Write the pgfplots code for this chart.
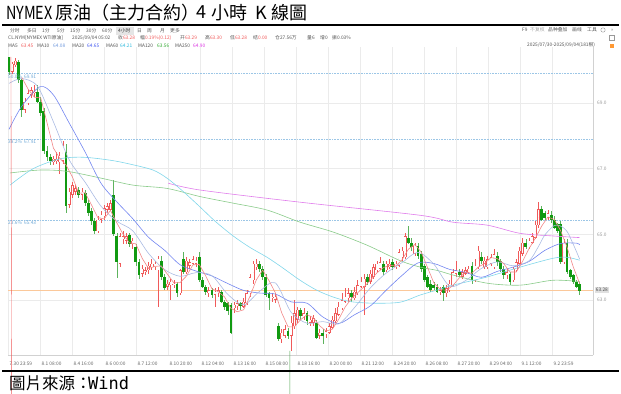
\documentclass[border=0pt]{standalone}
\usepackage{fontspec}
\setmainfont{Noto Sans CJK SC}
\newfontfamily\tcfont{Noto Sans CJK TC}
\newfontfamily\scfont{Noto Sans CJK SC}
\newfontfamily\monofont{DejaVu Sans Mono}
\usepackage{pgfplots}
\usepackage{pgfplotstable}
\pgfplotsset{compat=1.18}
\definecolor{upred}{HTML}{F05A5A}
\definecolor{dngreen}{HTML}{119A11}
\definecolor{dnwick}{HTML}{5DB35D}
\definecolor{ma5}{HTML}{F28888}
\definecolor{ma10}{HTML}{A9BBE3}
\definecolor{ma20}{HTML}{7386F0}
\definecolor{ma60}{HTML}{80D6EA}
\definecolor{ma120}{HTML}{8ACB8A}
\definecolor{ma250}{HTML}{E07CEB}
\definecolor{fib}{HTML}{9CC6E6}
\definecolor{fibtxt}{HTML}{6FA8D6}
\definecolor{gridc}{HTML}{EBEBEB}
\definecolor{curline}{HTML}{FBC89A}
\definecolor{lowgreen}{HTML}{4FA44F}
\definecolor{infotxt}{HTML}{555555}
\definecolor{ma10t}{HTML}{6F98DC}
\definecolor{ma20t}{HTML}{3F55F0}
\definecolor{ma60t}{HTML}{2BB8DC}
\definecolor{ma120t}{HTML}{2FA82F}
\definecolor{ma250t}{HTML}{D933E0}

\pgfplotsset{candle/.style={only marks, mark=*, mark size=0pt, mark options={draw=none, fill=none}, forget plot}}

\pgfplotstableread{
i o h l c
0 70.40 70.41 69.85 69.95
1 69.95 70.25 69.90 70.20
2 70.15 70.38 70.10 70.30
3 70.25 70.30 69.60 69.70
4 69.70 69.75 68.57 68.80
5 68.80 69.15 68.70 69.05
6 69.00 69.40 68.95 69.30
7 69.25 69.50 69.15 69.40
8 69.30 69.55 69.20 69.35
9 69.35 69.55 69.00 69.05
10 69.05 69.20 68.60 68.70
11 68.75 68.85 67.45 67.55
12 67.55 67.70 67.25 67.35
13 67.35 67.45 67.10 67.25
14 67.20 67.40 67.10 67.30
15 67.25 67.50 67.15 67.30
16 67.20 67.50 66.85 67.40
17 67.25 67.85 67.15 67.70
18 67.50 67.75 65.65 65.85
19 65.90 66.40 65.80 66.30
20 66.20 66.60 66.10 66.50
21 66.30 66.50 66.20 66.40
22 66.35 66.45 66.10 66.20
23 66.20 66.40 66.05 66.30
24 66.25 66.35 65.85 65.95
25 65.95 66.05 65.55 65.65
26 65.70 65.80 65.30 65.40
27 65.40 65.50 65.00 65.10
28 65.10 65.55 65.05 65.45
29 65.45 65.70 65.35 65.60
30 65.55 65.90 65.45 65.80
31 65.75 65.95 65.65 65.85
32 65.75 66.05 65.70 65.95
33 66.20 66.65 64.95 65.00
34 64.95 65.05 63.66 64.15
35 64.10 65.05 64.00 64.95
36 64.85 65.10 64.70 64.95
37 64.80 65.05 64.70 64.95
38 64.97 65.05 64.60 64.70
39 64.70 64.90 64.55 64.80
40 64.60 64.70 64.05 64.15
41 64.15 64.25 63.65 63.75
42 63.80 64.05 63.70 63.95
43 63.85 64.00 63.75 63.90
44 63.90 64.15 63.80 64.05
45 64.00 64.25 63.90 64.10
46 64.00 64.20 63.90 64.10
47 63.90 64.35 62.78 64.25
48 64.20 64.35 63.60 63.70
49 63.70 63.80 63.30 63.35
50 63.40 63.60 63.30 63.50
51 63.45 63.65 63.00 63.55
52 63.45 63.60 63.35 63.50
53 63.50 63.55 63.10 63.20
54 63.20 63.95 63.15 63.90
55 64.25 64.45 63.80 63.85
56 63.85 64.30 63.80 64.20
57 64.05 64.25 63.95 64.15
58 64.10 64.35 64.05 64.25
59 64.10 64.30 64.00 64.20
60 64.30 64.45 63.55 63.60
61 63.60 63.70 63.35 63.40
62 63.40 63.45 63.15 63.25
63 63.20 63.40 63.10 63.30
64 63.30 63.35 63.05 63.15
65 63.15 63.35 62.80 63.25
66 63.20 63.40 63.10 63.30
67 63.25 63.30 62.90 62.95
68 62.95 63.00 62.70 62.80
69 62.90 62.95 62.55 62.65
70 62.85 62.90 61.95 62.00
71 62.75 62.95 62.60 62.85
72 62.80 63.00 62.70 62.90
73 62.90 62.95 62.70 62.80
74 62.80 63.05 62.75 62.95
75 62.90 63.30 62.85 63.20
76 63.20 63.80 63.10 63.70
77 63.60 64.20 63.50 64.10
78 64.00 64.25 63.90 64.10
79 64.10 64.20 63.85 63.95
80 63.95 64.05 63.60 63.70
81 63.70 63.80 63.10 63.15
82 63.20 63.25 62.70 63.05
83 63.05 63.20 62.95 63.10
84 63.00 63.20 62.90 63.10
85 62.20 62.30 61.75 61.80
86 61.80 62.10 61.70 62.00
87 61.90 62.25 61.85 62.10
88 62.05 62.15 61.80 61.90
89 61.90 62.50 61.45 62.30
90 62.20 63.00 62.10 62.60
91 62.40 62.80 62.30 62.70
92 62.70 62.75 62.40 62.50
93 62.50 62.75 62.40 62.60
94 62.60 62.65 62.25 62.35
95 62.30 62.50 62.20 62.40
96 62.30 62.55 62.20 62.45
97 62.30 62.40 61.80 61.85
98 61.90 62.10 61.80 62.00
99 62.00 62.10 61.65 61.90
100 61.95 62.15 61.85 62.05
101 62.00 62.30 61.95 62.20
102 62.15 62.50 62.10 62.40
103 62.35 62.75 62.30 62.60
104 62.55 62.95 62.50 62.80
105 62.75 63.20 62.70 63.00
106 62.95 63.35 62.90 63.10
107 63.05 63.35 62.95 63.20
108 63.20 63.30 62.95 63.10
109 63.05 63.40 63.00 63.25
110 63.20 63.60 63.15 63.45
111 63.40 63.70 63.35 63.55
112 63.40 63.80 62.55 63.65
113 63.70 63.80 63.45 63.55
114 63.55 63.90 63.50 63.80
115 63.70 64.10 63.65 64.00
116 63.90 64.20 63.85 64.10
117 63.95 64.30 63.90 64.15
118 64.10 64.20 63.75 63.85
119 63.90 64.20 63.85 64.10
120 64.00 64.25 63.95 64.10
121 64.15 64.25 63.90 64.00
122 64.00 64.20 63.95 64.10
123 64.05 64.55 64.00 64.45
124 64.30 64.60 64.20 64.50
125 64.30 65.05 64.25 64.95
126 64.90 65.25 64.70 64.75
127 64.75 64.90 64.50 64.60
128 64.40 64.75 64.35 64.65
129 64.65 64.75 64.25 64.35
130 64.40 64.50 63.85 63.95
131 64.05 64.10 63.55 63.60
132 63.70 63.75 63.35 63.40
133 63.50 63.60 63.25 63.30
134 63.45 63.55 63.30 63.35
135 63.40 63.50 63.20 63.25
136 63.25 63.40 63.15 63.30
137 63.40 63.45 62.97 63.20
138 63.20 63.45 63.10 63.35
139 63.30 63.60 63.25 63.50
140 63.45 63.95 63.40 63.85
141 63.80 64.20 63.70 63.90
142 63.85 63.95 63.70 63.75
143 63.70 63.95 63.65 63.85
144 63.80 64.00 63.75 63.90
145 63.85 64.05 63.80 63.95
146 64.05 64.15 63.50 63.60
147 63.60 64.25 63.55 64.05
148 64.00 64.65 63.95 64.50
149 64.30 64.45 64.10 64.20
150 64.00 64.30 63.95 64.20
151 64.00 64.35 63.95 64.25
152 64.10 64.40 64.05 64.30
153 64.00 64.55 63.95 64.40
154 64.35 64.45 64.05 64.15
155 64.20 64.25 63.85 63.95
156 63.95 64.05 63.65 63.75
157 63.75 63.95 63.65 63.85
158 63.80 63.85 63.45 63.55
159 63.60 64.00 63.55 63.95
160 63.90 64.25 63.85 64.15
161 64.10 64.60 64.05 64.50
162 64.40 64.90 64.35 64.75
163 64.75 64.85 64.55 64.60
164 64.60 64.90 64.55 64.80
165 64.75 65.05 64.70 64.95
166 64.90 65.40 64.85 65.30
167 65.28 66.00 65.20 65.77
168 65.77 65.85 65.40 65.45
169 65.65 65.70 65.45 65.50
170 65.50 65.75 65.45 65.65
171 65.60 65.70 65.35 65.43
172 65.45 65.55 65.15 65.20
173 65.30 65.35 65.05 65.10
174 65.30 65.40 64.10 64.15
175 64.15 64.85 64.10 64.75
176 64.75 64.85 63.80 63.85
177 63.90 63.95 63.65 63.70
178 63.75 63.80 63.50 63.55
179 63.55 63.60 63.35 63.40
180 63.50 63.55 63.15 63.28
}\kdata

\newcommand\tinyf{\scfont\fontsize{4.8bp}{5.2bp}\selectfont}

\begin{document}
\begin{tikzpicture}[x=1bp,y=1bp,
  info/.style={anchor=west, inner sep=0pt, font=\tinyf, text=infotxt},
  ttl/.style={anchor=west, inner sep=0pt, font=\tcfont\fontsize{18bp}{19bp}\selectfont}]
\useasboundingbox (0,0) rectangle (621,393);
% title
\node[ttl] at (6,380.5) {\scalebox{0.8}[1]{NYMEX}};
\node[ttl] at (55.5,380.5) {原油（主力合約）};
\node[ttl] at (196,380.5) {4};
\node[ttl] at (211.5,380.5) {小時};
\node[ttl] at (255.5,380.5) {K};
\node[ttl] at (271.5,380.5) {線圖};
\draw[line width=1.5bp] (2,368) -- (619,368);
% row 1 tabs
\fill[black!10] (116,358.5) rectangle (134,365.5);
\node[info] at (10,362) {分时};
\node[info] at (27,362) {多日};
\node[info] at (42,362) {1分};
\node[info] at (57,362) {5分};
\node[info] at (70,362) {15分};
\node[info] at (86,362) {30分};
\node[info] at (102,362) {60分};
\node[info, text=black!80] at (118,362) {4小时};
\node[info] at (137,362) {日};
\node[info] at (147,362) {周};
\node[info] at (160,362) {月};
\node[info] at (170,362) {更多};
% row 2
\node[info] at (8,355) {CL.NYM[NYMEX WTI原油]};
\node[info] at (72,355) {2025/09/04 05:02};
\node[info] at (118,355) {收\textcolor{upred}{63.28}};
\node[info] at (140,355) {幅\textcolor{upred}{0.19\%(0.12)}};
\node[info] at (180,355) {开\textcolor{upred}{63.29}};
\node[info] at (205,355) {高\textcolor{upred}{63.30}};
\node[info] at (230,355) {低\textcolor{upred}{63.28}};
\node[info] at (253,355) {结\textcolor{upred}{0.00}};
\node[info] at (275,355) {仓27.56万};
\node[info] at (307,355) {量6};
\node[info] at (320,355) {增0};
\node[info] at (332,355) {振0.03\%};
% row 3
\node[info] at (8,347) {MA5};
\node[info, text=upred] at (21,347) {63.45};
\node[info] at (37,347) {MA10};
\node[info, text=ma10t] at (53,347) {64.08};
\node[info] at (72,347) {MA20};
\node[info, text=ma20t] at (87,347) {64.65};
\node[info] at (106,347) {MA60};
\node[info, text=ma60t] at (120,347) {64.21};
\node[info] at (138,347) {MA120};
\node[info, text=ma120t] at (157,347) {63.56};
\node[info] at (175,347) {MA250};
\node[info, text=ma250t] at (193,347) {64.90};
% right side
\node[info] at (522,363) {F9};
\node[info, text=black!35] at (530,363) {不复权};
\node[info] at (548,363) {品种叠加};
\node[info] at (572,363) {画线};
\node[info] at (587,363) {工具};
\draw[black!40, line width=0.4bp] (603,363) circle (2.2bp);
\node[info, text=black!50] at (611,363) {»};
\draw[black!40, line width=0.4bp] (609.5,353) rectangle (614.5,357.5);
\node[info] at (527,348) {2025/07/30-2025/09/04(181根)};
\fill[orange!80] (610,345.5) rectangle (614,349);

\begin{axis}[
  at={(8bp,38bp)}, anchor=south west, scale only axis,
  width=585bp, height=308bp,
  xmin=-0.32, xmax=184.2, ymin=61.32, ymax=70.71,
  clip=false,
  axis x line*=bottom, axis y line*=right,
  axis line style={draw=black!18, line width=0.5bp},
  major tick length=0pt,
  xtick={-0.32,9.77,19.87,29.96,40.05,50.15,60.24,70.33,80.42,90.52,100.61,110.70,120.80,130.89,140.98,151.08,161.17,171.26},
  xticklabels={{7.30 23:59},{8.1 08:00},{8.4 16:00},{8.6 00:00},{8.7 12:00},{8.10 20:00},{8.12 04:00},{8.13 16:00},{8.15 08:00},{8.18 16:00},{8.20 00:00},{8.21 12:00},{8.24 20:00},{8.26 08:00},{8.27 20:00},{8.29 04:00},{9.1 12:00},{9.2 23:59}},
  ytick={63,65,67,69},
  grid=major, grid style={draw=gridc, line width=0.5bp},
  xticklabel style={anchor=north west, font=\tinyf, text=black!60, inner sep=0pt, yshift=-6.5bp, xshift=1.5bp},
  yticklabel style={anchor=west, font=\tinyf, text=black!40, inner sep=0pt, xshift=4bp,
    /pgf/number format/fixed, /pgf/number format/fixed zerofill, /pgf/number format/precision=1},
  /pgf/number format/assume math mode=true,
]
% fibonacci lines
\addplot[fib, densely dotted, line width=0.6bp, forget plot] coordinates {(-0.32,69.91) (184.2,69.91)};
\addplot[fib, densely dotted, line width=0.6bp, forget plot] coordinates {(-0.32,67.91) (184.2,67.91)};
\addplot[fib, densely dotted, line width=0.6bp, forget plot] coordinates {(-0.32,65.43) (184.2,65.43)};
% current price line
\addplot[curline, line width=0.8bp, forget plot] coordinates {(-0.32,63.28) (184.2,63.28)};

% wicks
\addplot[candle,
  restrict expr to domain={\thisrow{c}-\thisrow{o}}{0:100},
  error bars/.cd, y dir=both, y explicit, error mark=none,
  error bar style={draw=upred, line width=0.55bp}]
  table[x=i, y expr={(\thisrow{h}+\thisrow{l})/2}, y error expr={(\thisrow{h}-\thisrow{l})/2}] {\kdata};
\addplot[candle,
  restrict expr to domain={\thisrow{c}-\thisrow{o}}{-100:-0.0001},
  error bars/.cd, y dir=both, y explicit, error mark=none,
  error bar style={draw=dnwick, line width=0.55bp}]
  table[x=i, y expr={(\thisrow{h}+\thisrow{l})/2}, y error expr={(\thisrow{h}-\thisrow{l})/2}] {\kdata};
% down bodies (filled green)
\addplot[candle,
  restrict expr to domain={\thisrow{c}-\thisrow{o}}{-100:-0.0001},
  error bars/.cd, y dir=both, y explicit, error mark=none,
  error bar style={draw=dngreen, line width=2.8bp}]
  table[x=i, y expr={(\thisrow{o}+\thisrow{c})/2}, y error expr={max(abs(\thisrow{o}-\thisrow{c})/2,0.02)}] {\kdata};
% up bodies (hollow red)
\addplot[candle,
  restrict expr to domain={\thisrow{c}-\thisrow{o}}{0:100},
  error bars/.cd, y dir=both, y explicit, error mark=none,
  error bar style={draw=upred, line width=2.8bp}]
  table[x=i, y expr={(\thisrow{o}+\thisrow{c})/2}, y error expr={max(abs(\thisrow{o}-\thisrow{c})/2,0.02)}] {\kdata};
\addplot[candle,
  restrict expr to domain={\thisrow{c}-\thisrow{o}}{0:100},
  error bars/.cd, y dir=both, y explicit, error mark=none,
  error bar style={draw=white, line width=1.7bp}]
  table[x=i, y expr={(\thisrow{o}+\thisrow{c})/2}, y error expr={max(abs(\thisrow{o}-\thisrow{c})/2-0.017,0)}] {\kdata};

% moving averages
\addplot[ma250, line width=0.6bp, smooth, forget plot] coordinates {
(50.2,66.56) (60.3,66.35) (91.8,65.98) (129.7,65.58) (140,65.37) (150.8,65.28) (161.2,65.03) (171.6,64.95) (180,64.90)};
\addplot[ma120, line width=0.6bp, smooth, forget plot] coordinates {
(0.3,66.87) (9.8,66.96) (18.3,66.92) (28.7,66.72) (39.1,66.50) (49.8,66.40) (60.3,66.15) (70.7,65.95) (81.4,65.74) (91.8,65.37) (102.2,65.07) (112.9,64.67) (123.3,64.20) (129.7,64.00) (135,63.90) (140,63.76) (150.8,63.51) (161.2,63.45) (171.6,63.60) (180,63.56)};
\addplot[ma60, line width=0.6bp, smooth, forget plot] coordinates {
(0.3,66.50) (7.6,67.00) (16,67.30) (23.3,67.35) (31.9,67.26) (38.2,67.14) (45.4,66.96) (50,66.70) (55,66.30) (60.3,65.83) (65,65.40) (70.7,64.95) (76,64.60) (81.4,64.30) (86,64.00) (91.8,63.60) (97,63.30) (102.2,63.09) (107.6,62.95) (115,62.90) (123.3,62.93) (129.7,63.15) (135,63.30) (140,63.45) (150.8,63.70) (161.2,64.00) (171.6,64.27) (176,64.30) (180,64.21)};
\addplot[ma20, line width=0.6bp, smooth, forget plot] coordinates {
(0,68.20) (4,68.90) (9.8,69.50) (14,69.25) (19,68.39) (24,67.51) (29,66.56) (34,65.99) (39,65.48) (44,64.91) (49,64.52) (54,64.07) (59,63.88) (64,63.73) (69,63.50) (74,63.29) (79,63.21) (84,63.18) (89,62.94) (94,62.90) (99,62.48) (104,62.28) (109,62.55) (114,62.82) (119,63.30) (124,63.75) (129,64.13) (134,64.11) (139,63.93) (144,63.84) (149,63.69) (154,63.87) (159,64.00) (164,64.17) (169,64.51) (174,64.72) (179,64.73) (180,64.68)};
\addplot[ma10, line width=0.6bp, smooth, forget plot] coordinates {
(0,69.60) (4,69.75) (9,69.51) (14,68.43) (19,67.27) (24,66.59) (29,65.86) (34,65.40) (39,65.11) (44,64.42) (49,63.93) (54,63.72) (59,63.83) (64,63.74) (69,63.17) (74,62.85) (79,63.26) (84,63.52) (89,62.62) (94,62.29) (99,62.34) (104,62.27) (109,62.77) (114,63.37) (119,63.82) (124,64.14) (129,64.45) (134,64.09) (139,63.42) (144,63.59) (149,63.96) (154,64.16) (159,64.04) (164,64.19) (167,64.63) (169,64.98) (172,65.27) (174,65.25) (176,65.09) (178,64.69) (180,64.24)};
\addplot[ma5, line width=0.6bp, forget plot] coordinates {
(4,69.79) (6,69.43) (8,69.18) (10,69.16) (12,68.40) (14,67.63) (16,67.32) (18,67.11) (20,66.75) (22,66.25) (24,66.27) (26,65.90) (28,65.51) (30,65.47) (32,65.73) (34,65.35) (36,65.00) (38,64.74) (40,64.71) (42,64.27) (44,63.96) (46,64.02) (48,64.04) (50,63.78) (52,63.52) (54,63.53) (56,63.73) (58,64.07) (60,64.08) (62,63.74) (64,63.34) (66,63.25) (68,63.09) (70,62.74) (72,62.64) (74,62.70) (76,63.11) (78,63.61) (80,63.91) (82,63.59) (84,63.22) (86,62.61) (88,62.18) (90,62.18) (92,62.40) (94,62.55) (96,62.46) (98,62.21) (100,62.05) (102,62.11) (104,62.41) (106,62.78) (108,63.04) (110,63.22) (112,63.40) (114,63.60) (116,63.82) (118,63.98) (120,64.06) (122,64.03) (124,64.23) (126,64.55) (128,64.69) (130,64.46) (132,63.99) (134,63.52) (136,63.32) (138,63.29) (140,63.44) (142,63.67) (144,63.85) (146,63.81) (148,64.00) (150,64.11) (152,64.29) (154,64.26) (156,64.11) (158,63.85) (160,63.85) (162,64.18) (164,64.56) (166,64.88) (168,65.25) (170,65.53) (172,65.45) (174,65.11) (176,64.61) (178,64.00) (180,63.50)};

% annotations
\node[anchor=west, inner sep=0pt, font=\tinyf, text=fibtxt, yshift=-3bp] at (axis cs:-0.32,69.91) {50.0\%\ \ 69.91};
\node[anchor=west, inner sep=0pt, font=\tinyf, text=fibtxt, yshift=-3bp] at (axis cs:-0.32,67.91) {38.2\%\ \ 67.91};
\node[anchor=west, inner sep=0pt, font=\tinyf, text=fibtxt, yshift=-3bp] at (axis cs:-0.32,65.43) {23.6\%\ \ 65.43};
\draw[upred, line width=0.4bp] (axis cs:0.6,70.41) -- ++(3.5bp,0) node[anchor=west, inner sep=0.5bp, font=\tinyf, text=upred] {70.41};
\draw[lowgreen, line width=0.4bp] (axis cs:88.6,61.45) -- ++(-5bp,0) node[anchor=east, inner sep=0.5bp, font=\tinyf, text=lowgreen] {61.45};
\end{axis}
% current price tag
\node[anchor=west, fill=black!12, text=black!70, font=\tinyf, inner sep=1.2bp] at (594.5,103) {63.28};
% source
\draw[line width=1.2bp] (2,22) -- (619,22);
\node[anchor=west, inner sep=0pt, font=\tcfont\fontsize{16.5bp}{17bp}\selectfont] at (9,10) {圖片來源：};
\node[anchor=west, inner sep=0pt, font=\monofont\fontsize{17bp}{18bp}\selectfont] at (88,10) {Wind};
\end{tikzpicture}
\end{document}
